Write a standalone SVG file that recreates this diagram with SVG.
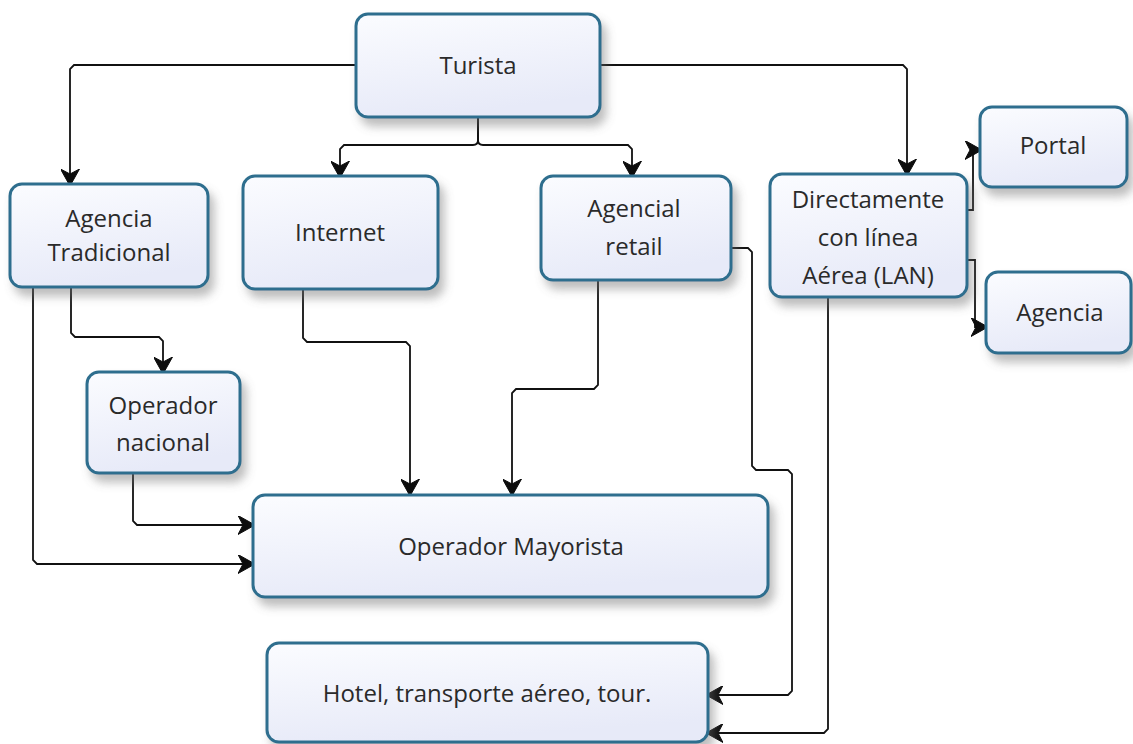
<svg xmlns="http://www.w3.org/2000/svg" width="1133" height="744" viewBox="0 0 1133 744">
<defs>
<linearGradient id="g" x1="0" y1="0" x2="0.3" y2="1">
<stop offset="0" stop-color="#fbfcff"/>
<stop offset="1" stop-color="#e7eaf8"/>
</linearGradient>
<filter id="sh" x="-10%" y="-10%" width="125%" height="140%">
<feDropShadow dx="5" dy="8" stdDeviation="5" flood-color="#6f6f6f" flood-opacity="0.45"/>
</filter>
<marker id="ah" viewBox="0 0 17 19" refX="16" refY="9.5" markerWidth="17" markerHeight="19" markerUnits="userSpaceOnUse" orient="auto">
<path d="M0,0 L17,9.5 L0,19 L5,9.5 Z" fill="#0d0d0d" stroke="#0d0d0d" stroke-width="1" stroke-linejoin="round"/>
</marker>
<style>
.box{fill:url(#g);stroke:#2e6e8e;stroke-width:3;filter:url(#sh)}
.t{font-family:"Open Sans","Noto Sans","DejaVu Sans",sans-serif;font-size:24px;fill:#2a2a2a;text-anchor:middle}
.c{fill:none;stroke:#111;stroke-width:1.8;marker-end:url(#ah)}
</style>
</defs>
<rect width="1133" height="744" fill="#fff"/>

<g id="connectors">
<path class="c" d="M356 65 H74 L70 69 V185"/>
<path class="c" d="M600 65 H903 L907 69 V175"/>
<path class="c" d="M478 117 V140 Q478 145 473 145 H344 L340 149 V177"/>
<path class="c" d="M478 117 V140 Q478 145 483 145 H628 L632 149 V177"/>
<path class="c" d="M303 289 V338 L307 342 H406 L410 346 V495"/>
<path class="c" d="M598 280 V385 L594 389 H516 L512 393 V495"/>
<path class="c" d="M71 287 V333 L75 337 H159 L163 341 V373"/>
<path class="c" d="M33 287 V560 L37 564 H254"/>
<path class="c" d="M133 473 V521 L137 525 H254"/>
<path class="c" d="M731 248 H748 L752 252 V466 L756 470 H788 L792 474 V691 L788 695 H707"/>
<path class="c" d="M828 297 V729 L824 733 H707"/>
<path class="c" d="M967 210 H973 V150 H981"/>
<path class="c" d="M967 260 H975 V327 H987"/>
</g>

<g id="turista"><rect class="box" x="356" y="14" width="244" height="103" rx="12"/><text class="t" x="478" y="74">Turista</text></g>
<g id="agencia-tradicional"><rect class="box" x="10" y="184" width="198" height="103" rx="12"/><text class="t" x="109" y="227">Agencia</text><text class="t" x="109" y="261">Tradicional</text></g>
<g id="internet"><rect class="box" x="243" y="176" width="195" height="113" rx="12"/><text class="t" x="340" y="241">Internet</text></g>
<g id="agencial-retail"><rect class="box" x="541" y="176" width="190" height="104" rx="12"/><text class="t" x="634" y="217">Agencial</text><text class="t" x="634" y="255">retail</text></g>
<g id="directamente"><rect class="box" x="770" y="174" width="197" height="123" rx="12"/><text class="t" x="868" y="208">Directamente</text><text class="t" x="868" y="246">con línea</text><text class="t" x="868" y="284">Aérea (LAN)</text></g>
<g id="portal"><rect class="box" x="980" y="107" width="147" height="80" rx="12"/><text class="t" x="1053" y="154">Portal</text></g>
<g id="agencia"><rect class="box" x="986" y="272" width="145" height="81" rx="12"/><text class="t" x="1060" y="321">Agencia</text></g>
<g id="operador-nacional"><rect class="box" x="87" y="372" width="153" height="101" rx="12"/><text class="t" x="163" y="414">Operador</text><text class="t" x="163" y="451">nacional</text></g>
<g id="operador-mayorista"><rect class="box" x="253" y="495" width="515" height="102" rx="12"/><text class="t" x="511" y="555">Operador Mayorista</text></g>
<g id="hotel"><rect class="box" x="267" y="643" width="441" height="99" rx="12"/><text class="t" x="487" y="702">Hotel, transporte aéreo, tour.</text></g>
</svg>
